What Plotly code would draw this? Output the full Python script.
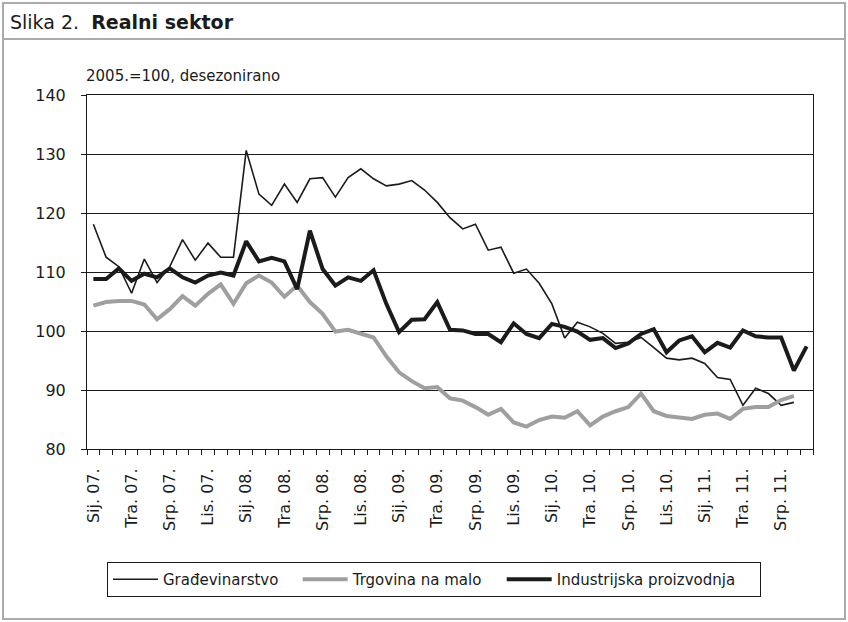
'''Slika 2. Realni sektor - indeksi 2005.=100, desezonirano.'''
import plotly.graph_objects as go

##### data #####

mjeseci = ['Sij', 'Velj', 'Ožu', 'Tra', 'Svi', 'Lip', 'Srp', 'Kol', 'Ruj', 'Lis', 'Stu', 'Pro']
# sij. 2007. - ruj. 2011.
months = ['{}. {:02d}.'.format(m, g) for g in range(7, 12) for m in mjeseci][:57]

gradevinarstvo = [
    118.1, 112.5, 110.9, 106.4, 112.2, 108.2, 110.9, 115.5, 112.0, 114.9, 112.5, 112.5,
    130.6, 123.2, 121.3, 124.9, 121.8, 125.8, 126.0, 122.7, 126.0, 127.5, 125.8, 124.6,
    124.9, 125.5, 123.9, 121.8, 119.2, 117.3, 118.1, 113.7, 114.2, 109.8, 110.5, 108.1,
    104.6, 98.8, 101.5, 100.7, 99.6, 97.9, 98.1, 98.9, 97.2, 95.4, 95.1, 95.4,
    94.5, 92.1, 91.8, 87.4, 90.3, 89.4, 87.4, 87.9,
]
trgovina = [
    104.3, 104.9, 105.1, 105.1, 104.5, 102.0, 103.7, 105.9, 104.3, 106.3, 107.9, 104.6,
    108.1, 109.4, 108.2, 105.8, 107.7, 104.9, 102.9, 99.9, 100.2, 99.6, 98.9, 95.7,
    93.0, 91.5, 90.3, 90.5, 88.6, 88.2, 87.1, 85.8, 86.8, 84.5, 83.8, 84.9,
    85.5, 85.3, 86.4, 84.0, 85.5, 86.4, 87.1, 89.4, 86.4, 85.6, 85.4, 85.1,
    85.8, 86.0, 85.1, 86.8, 87.1, 87.1, 88.3, 89.0,
]
industrija = [
    108.8, 108.8, 110.6, 108.5, 109.7, 109.1, 110.6, 109.1, 108.2, 109.4, 109.9, 109.4,
    115.2, 111.8, 112.4, 111.8, 107.1, 117.0, 110.5, 107.7, 109.1, 108.5, 110.3, 104.6,
    99.8, 101.9, 102.0, 104.9, 100.2, 100.1, 99.5, 99.5, 98.1, 101.3, 99.5, 98.8,
    101.2, 100.7, 99.9, 98.5, 98.8, 97.1, 97.9, 99.5, 100.3, 96.4, 98.4, 99.1,
    96.4, 98.0, 97.2, 100.1, 99.1, 98.9, 98.9, 93.3, 97.4,
]

y_ticks = [80, 90, 100, 110, 120, 130, 140]

##### layout helpers #####

W, H = 848, 622
L, R, T, B = 87, 35, 95, 173
PW, PH = W - L - R, H - T - B


def px_x(px):
    '''window pixel -> paper x'''
    return (px - L) / PW


def px_y(py):
    '''window pixel -> paper y'''
    return (H - B - py) / PH


BLACK = '#1b1b1b'
GRAY = '#9f9f9f'
FRAME = '#ababab'
FONT = 'DejaVu Sans'
NB = '\u00a0'

##### figure #####

fig = go.Figure(
    data=[
        go.Scatter(x=list(range(len(gradevinarstvo))), y=gradevinarstvo,
                   mode='lines', name='Građevinarstvo' + NB * 3,
                   line={'color': BLACK, 'width': 1.6}),
        go.Scatter(x=list(range(len(trgovina))), y=trgovina,
                   mode='lines', name='Trgovina na malo' + NB * 3,
                   line={'color': GRAY, 'width': 4}),
        go.Scatter(x=list(range(len(industrija))), y=industrija,
                   mode='lines', name='Industrijska proizvodnja' + NB * 4,
                   line={'color': BLACK, 'width': 4}),
    ],
    layout={
        'width': W, 'height': H,
        'margin': {'l': L, 'r': R, 't': T, 'b': B},
        'paper_bgcolor': 'white', 'plot_bgcolor': 'white',
        'font': {'family': FONT, 'color': BLACK, 'size': 15},
        'xaxis': {
            'range': [-0.5, len(months) - 0.5],
            'tickmode': 'array',
            'tickvals': list(range(0, len(months), 3)),
            'ticktext': months[::3],
            'tickangle': -90,
            'tickfont': {'size': 16},
            'ticks': '',
            'showgrid': False, 'zeroline': False,
            'showline': True, 'linecolor': BLACK, 'linewidth': 1, 'mirror': True,
            'minor': {'tickmode': 'linear', 'tick0': -0.5, 'dtick': 1,
                      'ticks': 'outside', 'ticklen': 5, 'tickcolor': BLACK,
                      'showgrid': False},
            'ticklabelstandoff': 12,
        },
        'yaxis': {
            'range': [80, 140],
            'tickmode': 'array', 'tickvals': y_ticks,
            'tickfont': {'size': 16},
            'ticks': 'outside', 'ticklen': 5, 'tickcolor': BLACK,
            'showgrid': True, 'gridcolor': BLACK, 'gridwidth': 1,
            'zeroline': False,
            'showline': True, 'linecolor': BLACK, 'linewidth': 1, 'mirror': True,
            'ticklabelstandoff': 12,
        },
        'legend': {
            'orientation': 'h',
            'x': px_x(434), 'xanchor': 'center',
            'y': px_y(562), 'yanchor': 'top',
            'bordercolor': BLACK, 'borderwidth': 1,
            'font': {'size': 15},
            'itemwidth': 45,
        },
        'showlegend': True,
        'annotations': [
            {'text': 'Slika 2.' + NB + ' <b>Realni sektor</b>', 'showarrow': False,
             'xref': 'paper', 'yref': 'paper', 'x': px_x(8), 'y': px_y(22),
             'xanchor': 'left', 'yanchor': 'middle', 'font': {'size': 19}},
            {'text': '2005.=100, desezonirano', 'showarrow': False,
             'xref': 'paper', 'yref': 'paper', 'x': px_x(84), 'y': px_y(76),
             'xanchor': 'left', 'yanchor': 'middle', 'font': {'size': 15}},
        ],
        'shapes': [
            {'type': 'rect', 'xref': 'paper', 'yref': 'paper',
             'x0': px_x(3), 'x1': px_x(845), 'y0': px_y(619), 'y1': px_y(3),
             'line': {'color': FRAME, 'width': 2}},
            {'type': 'line', 'xref': 'paper', 'yref': 'paper',
             'x0': px_x(3), 'x1': px_x(845), 'y0': px_y(39), 'y1': px_y(39),
             'line': {'color': FRAME, 'width': 2}},
        ],
    }
)

# drop the default 8px body margin so the figure fills the window exactly
fig.write_html('out.html',
               config={'displayModeBar': False},
               post_script="document.body.style.margin='0';"
                           "document.body.style.overflow='hidden';")
